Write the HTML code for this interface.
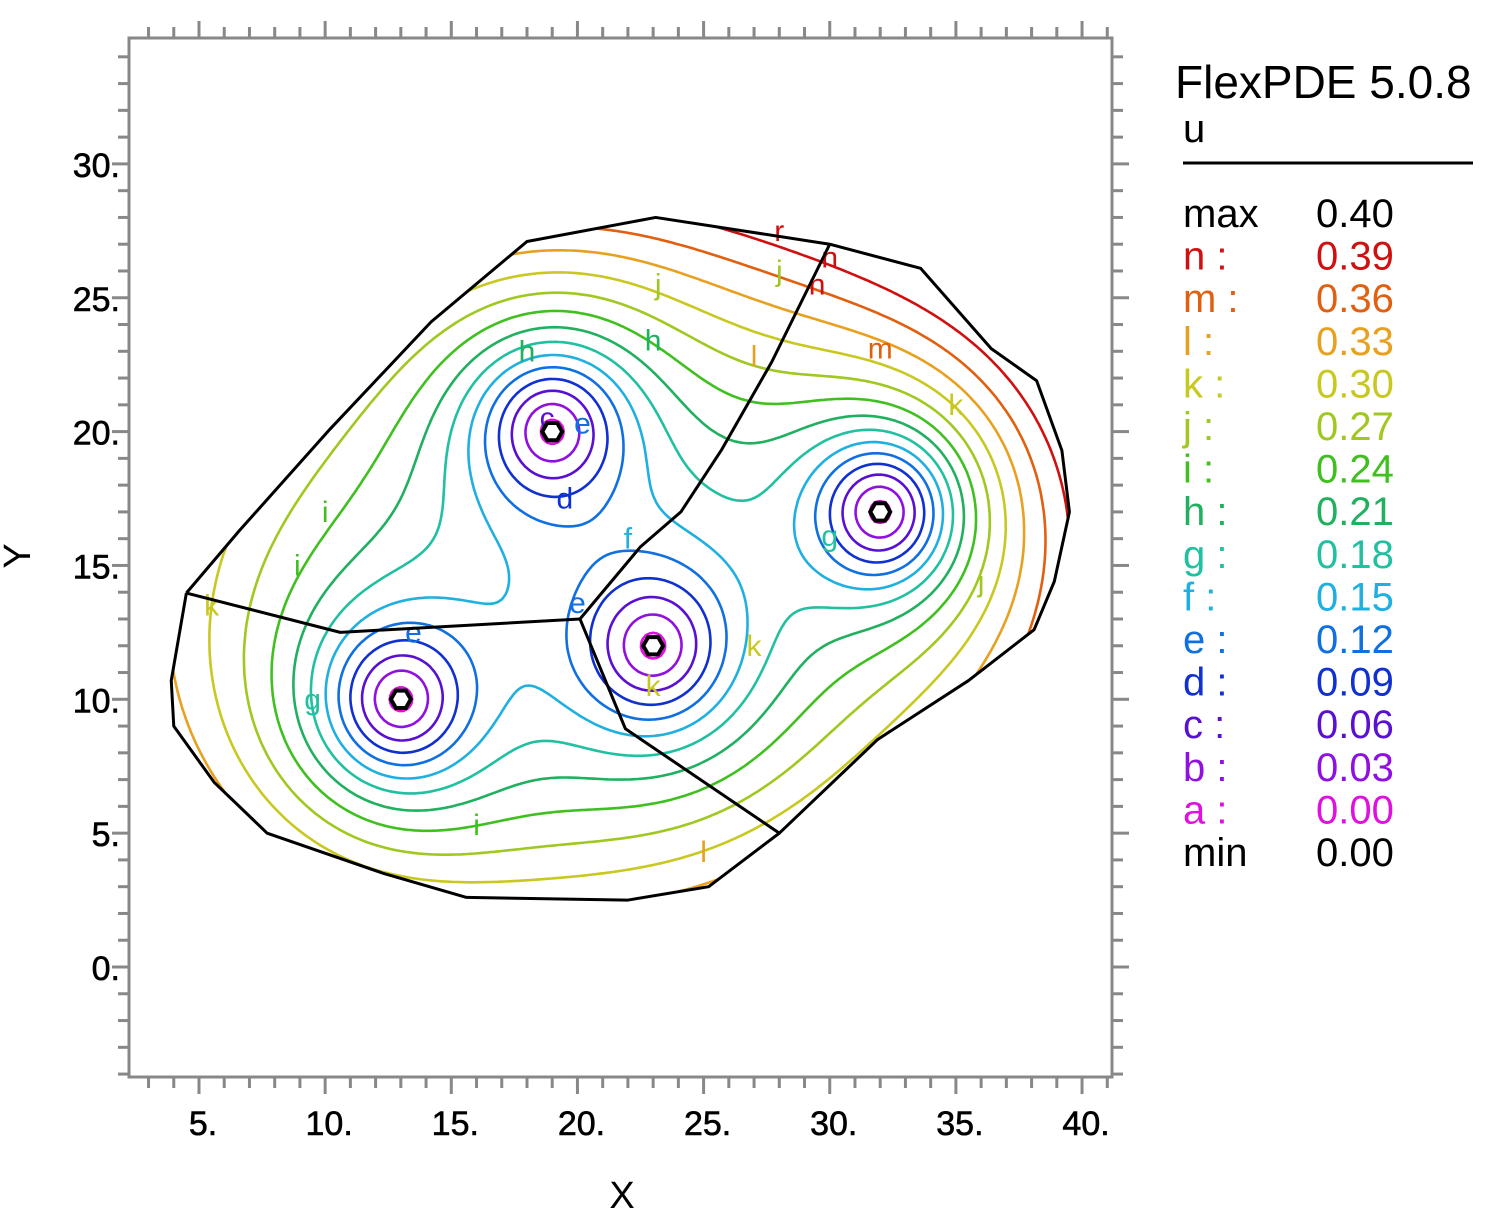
<!DOCTYPE html>
<html><head><meta charset="utf-8"><style>
body{margin:0;background:#fff;}
svg text{font-family:"Liberation Sans",sans-serif;}
</style></head><body>
<svg id="chart" width="1498" height="1212" viewBox="0 0 1498 1212" xmlns="http://www.w3.org/2000/svg">
<rect width="1498" height="1212" fill="#fff"/>
<g id="axes"></g>
<defs><clipPath id="dom"><polygon id="domclip" points=""/></clipPath></defs>
<g id="contours" clip-path="url(#dom)"></g>
<g id="over"></g>
<g id="legend"></g>
<text x="622" y="1208" font-size="38" text-anchor="middle">X</text>
<text x="0" y="0" font-size="38" text-anchor="middle" transform="translate(30,556) rotate(-90)">Y</text>
</svg>
<script>
const xTicks=[5,10,15,20,25,30,35,40];
const yTicks=[0,5,10,15,20,25,30];
const levelNames=['a','b','c','d','e','f','g','h','i','j','k','l','m','n'];
const levelValues=[0.00,0.03,0.06,0.09,0.12,0.15,0.18,0.21,0.24,0.27,0.30,0.33,0.36,0.39];
const levelColors=['#e010e0','#9010e0','#5a10d0','#1030d0','#1070e0','#20b0e0','#20c0a0','#20b060','#40c020','#a0c820','#c8c820','#e8a020','#e06010','#d01010'];
const wellX=[19,13,23,32];
const wellY=[20,10,12,17];
const domX=[4.5,6.6,10.2,14.2,18.0,23.1,30.0,33.6,36.4,38.2,39.2,39.5,38.9,38.1,35.5,31.9,28.0,25.2,22.0,15.6,12.3,7.7,5.6,4.0,3.9,4.5];
const domY=[13.97,16.3,20.1,24.1,27.1,28.0,27.0,26.1,23.1,21.9,19.3,17.0,14.4,12.6,10.7,8.5,5.0,3.0,2.5,2.6,3.5,5.0,6.9,9.0,10.7,13.97];
const cutAX=[4.5,10.6,20.1,21.9,28.0];
const cutAY=[13.97,12.5,13.0,8.9,5.0];
const cutBX=[20.1,22.5,24.1,25.7,27.7,30.0];
const cutBY=[13.0,15.7,17.0,19.3,22.6,27.0];
const labX=[18.8,20.2,19.5,13.5,20,22,30,23,18,28,10,16,23.2,9.5,29.5,36,27,27,35,32,30,28,25,5.5,8.9,23];
const labY=[20.5,20.3,17.5,12.5,13.6,16,16.1,23.4,23,26,17,5.3,25.5,10,25.5,14.4,12,22.8,21,23.1,26.5,27.5,4.3,13.5,15,10.5];
const labT=['c','e','d','e','e','f','g','h','h','j','i','i','j','g','n','j','k','l','k','m','n','r','l','k','i','k'];

const NS='http://www.w3.org/2000/svg';
const X=v=>199+(v-5)*25.23, Y=v=>967-v*26.77;
function mk(tag,attrs,parent){const e=document.createElementNS(NS,tag);for(const k in attrs)e.setAttribute(k,attrs[k]);parent.appendChild(e);return e;}
const axes=document.getElementById('axes');
const fr=mk('rect',{x:129,y:38,width:983,height:1039,fill:'none',stroke:'#888','stroke-width':3},axes);


for(let v=3;v<=41;v++){const x=X(v);if(x<131||x>1110)continue;const L=(v%5===0)?16:10;
 mk('line',{x1:x,y1:1078,x2:x,y2:1078+L,stroke:'#888','stroke-width':3},axes);
 mk('line',{x1:x,y1:37,x2:x,y2:37-L,stroke:'#888','stroke-width':3},axes);}
for(let v=-4;v<=34;v++){const y=Y(v);if(y<40||y>1075)continue;const L=(v%5===0)?16:10;
 mk('line',{x1:128,y1:y,x2:128-L,y2:y,stroke:'#888','stroke-width':3},axes);
 mk('line',{x1:1113,y1:y,x2:1113+L,y2:y,stroke:'#888','stroke-width':3},axes);}
xTicks.forEach(v=>{const t=mk('text',{x:X(v)+4,y:1135,'font-size':34,'text-anchor':'middle','stroke':'#000','stroke-width':0.6},axes);t.textContent=v+'.';
 
 });
yTicks.forEach(v=>{const t=mk('text',{x:120,y:Y(v)+13,'font-size':34,'text-anchor':'end','stroke':'#000','stroke-width':0.6},axes);t.textContent=v+'.';
 
 });

function field(x,y){let B=0.30+0.002*(y-14)+0.002*(x-20)+0.0004*(x-21)*(x-21)+0.0008*(y-15)*(y-15);
 let f=1;for(let i=0;i<wellX.length;i++){const r2=(x-wellX[i])**2+(y-wellY[i])**2;f*=r2/(r2+9);}return B*f;}
const x0=2,x1=42,y0=1,y1=30,h=0.15;
const nx=Math.round((x1-x0)/h),ny=Math.round((y1-y0)/h);
const G=[];for(let j=0;j<=ny;j++){G.push([]);for(let i=0;i<=nx;i++)G[j].push(field(x0+i*h,y0+j*h));}
const cg=document.getElementById('contours');
levelValues.forEach((lv0,k)=>{const lv=k===0?0.006:lv0;let d='';
 for(let j=0;j<ny;j++)for(let i=0;i<nx;i++){
  const c=[[i,j],[i+1,j],[i+1,j+1],[i,j+1]];const pts=[];
  for(let e=0;e<4;e++){const a=c[e],b=c[(e+1)%4];const va=G[a[1]][a[0]],vb=G[b[1]][b[0]];
   if((va<lv)!==(vb<lv)){const t=(lv-va)/(vb-va);pts.push([x0+(a[0]+t*(b[0]-a[0]))*h,y0+(a[1]+t*(b[1]-a[1]))*h]);}}
  for(let p=0;p+1<pts.length;p+=2)d+='M'+X(pts[p][0]).toFixed(1)+' '+Y(pts[p][1]).toFixed(1)+'L'+X(pts[p+1][0]).toFixed(1)+' '+Y(pts[p+1][1]).toFixed(1);
 }
 const p=mk('path',{d:d,stroke:levelColors[k],'stroke-width':2.6,fill:'none','stroke-linecap':'round'},cg);
 
 
});
document.getElementById('domclip').setAttribute('points',domX.map((v,i)=>X(v)+','+Y(domY[i])).join(' '));
const over=document.getElementById('over');
labX.forEach((v,i)=>{const k=levelNames.indexOf(labT[i]);const t=mk('text',{x:X(v),y:Y(labY[i])+10,'font-size':30,fill:k>=0?levelColors[k]:'#d01010','text-anchor':'middle'},over);t.textContent=labT[i];
 
 });
function poly(xs,ys,name){const p=mk('polyline',{points:xs.map((v,i)=>X(v)+','+Y(ys[i])).join(' '),fill:'none',stroke:'#000','stroke-width':3,'stroke-linejoin':'round'},over);
 
 }
poly(domX,domY,'domain-boundary');poly(cutAX,cutAY,'region-boundary-a');poly(cutBX,cutBY,'region-boundary-b');
wellX.forEach((v,i)=>{const cx=X(v),cy=Y(wellY[i]);let pts='';for(let a=0;a<6;a++){const t=a*Math.PI/3;pts+=(cx+10*Math.cos(t))+','+(cy+10*Math.sin(t))+' ';}
 const w=mk('polygon',{points:pts,fill:'#fff',stroke:'#000','stroke-width':4},over);
 
 });
const lg=document.getElementById('legend');
let t=mk('text',{x:1175,y:98,'font-size':46},lg);t.textContent='FlexPDE 5.0.8';


t=mk('text',{x:1183,y:142,'font-size':40},lg);t.textContent='u';


mk('line',{x1:1183,y1:163,x2:1473,y2:163,stroke:'#000','stroke-width':3},lg);
const rows=[['max','0.40','#000']];
for(let k=levelNames.length-1;k>=0;k--)rows.push([levelNames[k]+' :',levelValues[k].toFixed(2),levelColors[k]]);
rows.push(['min','0.00','#000']);
rows.forEach((r,i)=>{const y=227+i*42.6;
 const a=mk('text',{x:1183,y:y,'font-size':40,fill:r[2]},lg);a.textContent=r[0];
 
 
 const b=mk('text',{x:1316,y:y,'font-size':40,fill:r[2]},lg);b.textContent=r[1];
 
 });
</script>
</body></html>
